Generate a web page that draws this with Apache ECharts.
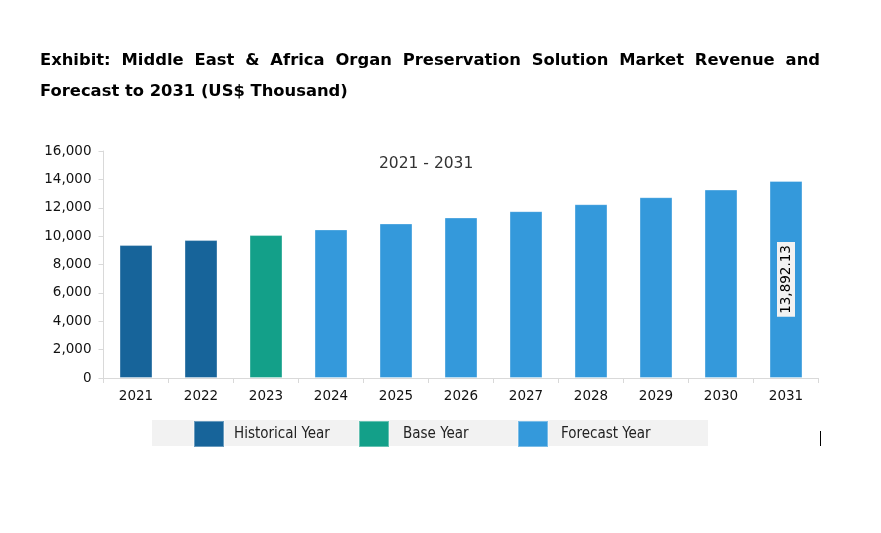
<!DOCTYPE html>
<html><head><meta charset="utf-8">
<script src="https://cdn.jsdelivr.net/npm/echarts@6/dist/echarts.min.js"></script>
<style>html,body{margin:0;padding:0;background:#fff}#c{width:881px;height:533px}</style>
</head><body><div id="c"></div>
<script>
const categories = ['2021','2022','2023','2024','2025','2026','2027','2028','2029','2030','2031'];
const historical = [9371, 9722, '-', '-', '-', '-', '-', '-', '-', '-', '-'];
const baseYear   = ['-', '-', 10074, '-', '-', '-', '-', '-', '-', '-', '-'];
const forecast   = ['-', '-', '-', 10475, 10896, 11318, 11761, 12253, 12745, 13286, 13892.13];
const seriesNames = ['Historical Year', 'Base Year', 'Forecast Year'];
const yMin = 0, yMax = 16000, yInterval = 2000;
const titleLine1 = 'Exhibit: Middle East & Africa Organ Preservation Solution Market Revenue and';
const titleLine2 = 'Forecast to 2031 (US$ Thousand)';
const subtitleText = '2021 - 2031';
const labeledIndex = 10;

const colors = ['#17649A', '#13A089', '#3499DB'];
const titleFamily = '"DejaVu Sans", sans-serif';
const condFamily = '"DejaVu Sans Condensed", "DejaVu Sans", sans-serif';

function fmt(v){
  return Number(v).toLocaleString('en-US',{minimumFractionDigits:2, maximumFractionDigits:2});
}

// fit title font so line 2 spans ~308px, then justify line 1 across 40..820
const cv = document.createElement('canvas').getContext('2d');
cv.font = 'bold 16px ' + titleFamily;
const l2w16 = cv.measureText(titleLine2).width;
const tSize = Math.min(17, 16 * 308 / l2w16);
const titleFont = 'bold ' + tSize.toFixed(2) + 'px ' + titleFamily;
cv.font = titleFont;
const words = titleLine1.split(' ');
const widths = words.map(w => cv.measureText(w).width);
const totalW = widths.reduce((a,b)=>a+b,0);
const L = 40, R = 820;
const gap = (R - L - totalW) / (words.length - 1);
const graphics = [];
let x = L;
words.forEach((w,i)=>{
  graphics.push({type:'text', x:x, y:61, style:{text:w, font:titleFont, fill:'#000', textVerticalAlign:'middle'}});
  x += widths[i] + gap;
});
graphics.push({type:'text', x:L, y:92, style:{text:titleLine2, font:titleFont, fill:'#000', textVerticalAlign:'middle'}});
graphics.push({type:'rect', left:152, top:420, shape:{width:556, height:26}, style:{fill:'#f2f2f2'}, z:-10});
graphics.push({type:'line', shape:{x1:820.5, y1:431, x2:820.5, y2:446}, style:{stroke:'#000', lineWidth:1}});

function mkData(arr, idx){
  return arr.map((v,i)=> i===idx && v!=='-' ? {value:v, label:{show:true}} : v);
}

const chart = echarts.init(document.getElementById('c'));
const barCommon = {
  type:'bar', stack:'total', barWidth:33,
  itemStyle:{borderColor:'rgba(255,255,255,0.35)', borderWidth:1},
};
const legendCommon = {
  top:420, padding:0, itemWidth:30, itemHeight:26, icon:'rect',
  selectedMode:false
};
const legTS = (p)=>({fontFamily:condFamily, fontSize:15, color:'#222', padding:[0,0,0,p]});
chart.setOption({
  animation:false,
  graphic:graphics,
  title:{text:subtitleText, left:379, top:156, padding:0,
    textStyle:{fontFamily:'"DejaVu Sans", sans-serif', fontWeight:'normal', fontSize:15.5, color:'#333'}},
  grid:{left:103.5, right:62.5, top:151, bottom:155},
  legend:[
    Object.assign({}, legendCommon, {left:193, data:[seriesNames[0]], textStyle:legTS(5)}),
    Object.assign({}, legendCommon, {left:358, data:[seriesNames[1]], textStyle:legTS(9)}),
    Object.assign({}, legendCommon, {left:517, data:[seriesNames[2]], textStyle:legTS(8)})
  ],
  xAxis:{type:'category', data:categories,
    axisLine:{lineStyle:{color:'#d9d9d9'}},
    axisTick:{show:true, length:5, lineStyle:{color:'#d9d9d9'}},
    axisLabel:{margin:11, fontFamily:'"DejaVu Sans", sans-serif', fontSize:13.5, color:'#111'}},
  yAxis:{type:'value', min:yMin, max:yMax, interval:yInterval,
    splitLine:{show:false},
    axisLine:{show:true, lineStyle:{color:'#d9d9d9'}},
    axisTick:{show:true, length:5, lineStyle:{color:'#d9d9d9'}},
    axisLabel:{margin:12, fontFamily:'"DejaVu Sans", sans-serif', fontSize:13.5, color:'#111',
      formatter:v=>Number(v).toLocaleString('en-US')}},
  series:[
    Object.assign({}, barCommon, {name:seriesNames[0], data:historical, itemStyle:Object.assign({}, barCommon.itemStyle, {color:colors[0]})}),
    Object.assign({}, barCommon, {name:seriesNames[1], data:baseYear, itemStyle:Object.assign({}, barCommon.itemStyle, {color:colors[1]})}),
    Object.assign({}, barCommon, {name:seriesNames[2], data:mkData(forecast, labeledIndex),
      itemStyle:Object.assign({}, barCommon.itemStyle, {color:colors[2]}),
      label:{show:false, position:'inside', rotate:90, formatter:p=>fmt(p.value),
        backgroundColor:'#f2f2f2', padding:[2,3], color:'#000',
        fontFamily:'"DejaVu Sans", sans-serif', fontSize:13.5}})
  ]
});
</script></body></html>
